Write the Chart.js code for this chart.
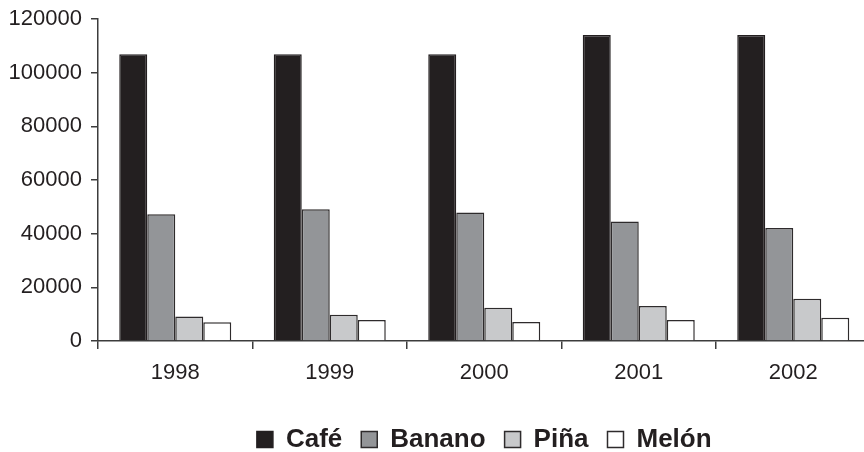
<!DOCTYPE html>
<html>
<head>
<meta charset="utf-8">
<script src="https://cdn.jsdelivr.net/npm/chart.js@4/dist/chart.umd.min.js"></script>
<style>
  html, body { margin: 0; padding: 0; background: #fff; overflow: hidden; }
  #wrap { width: 864px; height: 452px; overflow: hidden; position: relative; }
  canvas { display: block; }
</style>
</head>
<body>
<div id="wrap"><canvas id="chart" width="872" height="452"></canvas></div>
<script>
// Data
const years = ['1998', '1999', '2000', '2001', '2002'];
const cafe = [106900, 106900, 106900, 114000, 114000];
const banano = [47300, 49100, 47900, 44600, 42100];
const pina = [9200, 9800, 12400, 13100, 15800];
const melon = [7000, 7850, 7100, 7850, 8700];
const yTicks = [0, 20000, 40000, 60000, 80000, 100000, 120000];

const ink = '#231f20';
const edge = '#2e2b2c';
const font = '"Liberation Sans", Arial, sans-serif';

function series(label, data, fill, border) {
    return {
        label: label,
        data: data,
        backgroundColor: fill,
        borderColor: border,
        borderWidth: 1.5,
        categoryPercentage: 0.725,
        barPercentage: 1.0
    };
}

const ctx = document.getElementById('chart').getContext('2d');
new Chart(ctx, {
    type: 'bar',
    data: {
        labels: years,
        datasets: [
            series('Café', cafe, ink, ink),
            series('Banano', banano, '#939598', edge),
            series('Piña', pina, '#c8c9cb', edge),
            series('Melón', melon, '#ffffff', edge)
        ]
    },
    options: {
        responsive: false,
        animation: false,
        layout: {
            padding: { top: 0, right: 1.5, left: 0, bottom: -10.5 }
        },
        plugins: {
            tooltip: { enabled: false },
            legend: {
                position: 'bottom',
                fullSize: false,
                labels: {
                    color: ink,
                    boxWidth: 16,
                    boxHeight: 16,
                    padding: 19,
                    font: { family: font, size: 26, weight: 'bold' }
                }
            }
        },
        scales: {
            x: {
                grid: {
                    display: true,
                    offset: true,
                    drawOnChartArea: false,
                    drawTicks: true,
                    tickLength: 8,
                    color: '#3c3c3c',
                    lineWidth: 1.5
                },
                border: { display: true, color: '#3c3c3c', width: 1.5 },
                ticks: {
                    color: ink,
                    padding: 11,
                    font: { family: font, size: 22 }
                },
                afterFit: (scale) => { scale.height += 10; }
            },
            y: {
                min: 0,
                max: 120000,
                afterBuildTicks: (scale) => {
                    scale.ticks = yTicks.map(v => ({ value: v }));
                },
                grid: {
                    display: true,
                    drawOnChartArea: false,
                    drawTicks: true,
                    tickLength: 7,
                    color: '#3c3c3c',
                    lineWidth: 1.5
                },
                border: { display: true, color: '#3c3c3c', width: 1.5 },
                ticks: {
                    color: ink,
                    padding: 9,
                    font: { family: font, size: 22 },
                    callback: (v) => String(v)
                },
                afterFit: (scale) => {
                    scale.width = 98;
                    scale.paddingTop = 19;
                }
            }
        }
    }
});
</script>
</body>
</html>
